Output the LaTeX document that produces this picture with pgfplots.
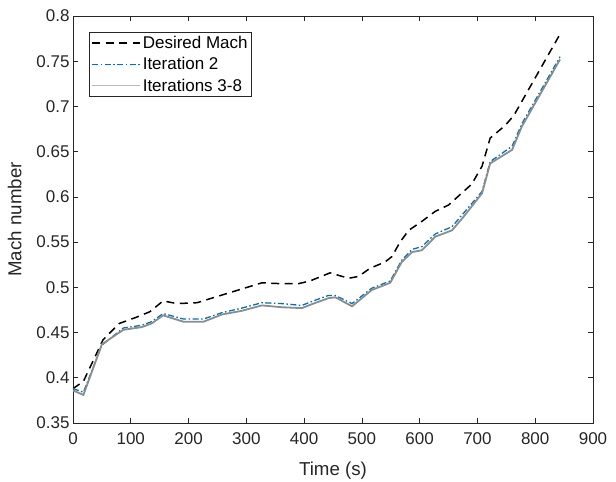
\documentclass[border=0pt]{standalone}
\usepackage{fontspec}
\setmainfont{Liberation Sans}
\usepackage{pgfplots}
\pgfplotsset{compat=1.18}
\definecolor{axgray}{rgb}{0.15,0.15,0.15}
\definecolor{itblue}{rgb}{0,0.447,0.741}
\definecolor{itgray}{rgb}{0.55,0.55,0.55}
\newcommand{\tickfont}{\fontsize{17bp}{20bp}\selectfont}
\newcommand{\lblfont}{\fontsize{18.7bp}{22bp}\selectfont}

\pgfplotstableread{
t m
0 0.388
18 0.396
52 0.442
80 0.460
110 0.467
133 0.473
156 0.485
180 0.482
215 0.483
240 0.488
281 0.496
327 0.505
361 0.504
390 0.504
410 0.507
445 0.516
477 0.510
494 0.512
514 0.521
540 0.528
552 0.534
566 0.550
581 0.563
604 0.573
627 0.584
650 0.591
676 0.606
690 0.614
708 0.634
722 0.665
748 0.679
763 0.690
843 0.780
}\desired

\pgfplotstableread{
t m
0 0.388
18 0.384
50 0.436
87 0.455
119 0.458
136 0.462
156 0.471
191 0.465
226 0.465
258 0.472
292 0.477
327 0.483
361 0.482
396 0.480
416 0.485
442 0.491
454 0.491
483 0.482
517 0.499
549 0.507
569 0.530
587 0.542
604 0.545
627 0.559
656 0.567
676 0.582
708 0.606
722 0.639
760 0.656
777 0.681
843 0.755
}\itertwo

\pgfplotstableread{
t m
0 0.386
18 0.381
50 0.437
87 0.453
119 0.456
136 0.460
156 0.469
191 0.462
226 0.462
258 0.470
292 0.474
327 0.480
361 0.478
396 0.477
416 0.482
442 0.488
454 0.489
483 0.479
517 0.497
549 0.505
569 0.528
587 0.539
604 0.541
627 0.556
656 0.563
676 0.578
708 0.604
722 0.637
760 0.652
777 0.678
843 0.752
}\iterrest

\begin{document}
\begin{tikzpicture}
\begin{axis}[
  scale only axis, width=520bp, height=407bp,
  xmin=0, xmax=900, ymin=0.35, ymax=0.8,
  xtick={0,100,200,300,400,500,600,700,800,900},
  ytick={0.35,0.4,0.45,0.5,0.55,0.6,0.65,0.7,0.75,0.8},
  yticklabel style={/pgf/number format/.cd, fixed, precision=2},
  /pgf/number format/assume math mode=true,
  tick align=inside, tick pos=both,
  major tick length=5bp,
  axis line style={axgray, line width=0.6bp},
  every tick/.style={axgray, line width=0.6bp},
  tick label style={font=\tickfont, text=axgray},
  label style={font=\lblfont, text=axgray},
  xticklabel style={yshift=-6bp},
  xlabel style={yshift=-11bp},
  ylabel shift=8bp,
  xlabel={Time (s)}, ylabel={Mach number},
  legend style={at={(0,1)}, anchor=north west, xshift=16bp, yshift=-16bp,
    draw=axgray, line width=0.6bp, font=\tickfont, inner sep=2bp,
    row sep=3.5bp, legend cell align=left},
]
\addplot[black, line width=1.5bp, dash pattern=on 8bp off 5.5bp,
  legend image code/.code={\draw[black, line width=1.5bp, dash pattern=on 8bp off 5.5bp] (0bp,0bp) -- (48bp,0bp);}]
  table[x=t,y=m] {\desired};
\addlegendentry{Desired Mach}
\addplot[itblue, line width=1.3bp, dash pattern=on 6bp off 2.5bp on 1.5bp off 2.5bp,
  legend image code/.code={\draw[itblue, line width=1.3bp, dash pattern=on 6bp off 2.5bp on 1.5bp off 2.5bp] (0bp,0bp) -- (48bp,0bp);}]
  table[x=t,y=m] {\itertwo};
\addlegendentry{Iteration 2}
\addplot[itgray, line width=1.8bp,
  legend image code/.code={\draw[gray!55, line width=1.2bp] (0bp,0bp) -- (48bp,0bp);}]
  table[x=t,y=m] {\iterrest};
\addlegendentry{Iterations 3-8}
\end{axis}
\pgfresetboundingbox
\path ([shift={(-73bp,-59bp)}]current axis.south west) rectangle ([shift={(23bp,16bp)}]current axis.north east);
\end{tikzpicture}
\end{document}
